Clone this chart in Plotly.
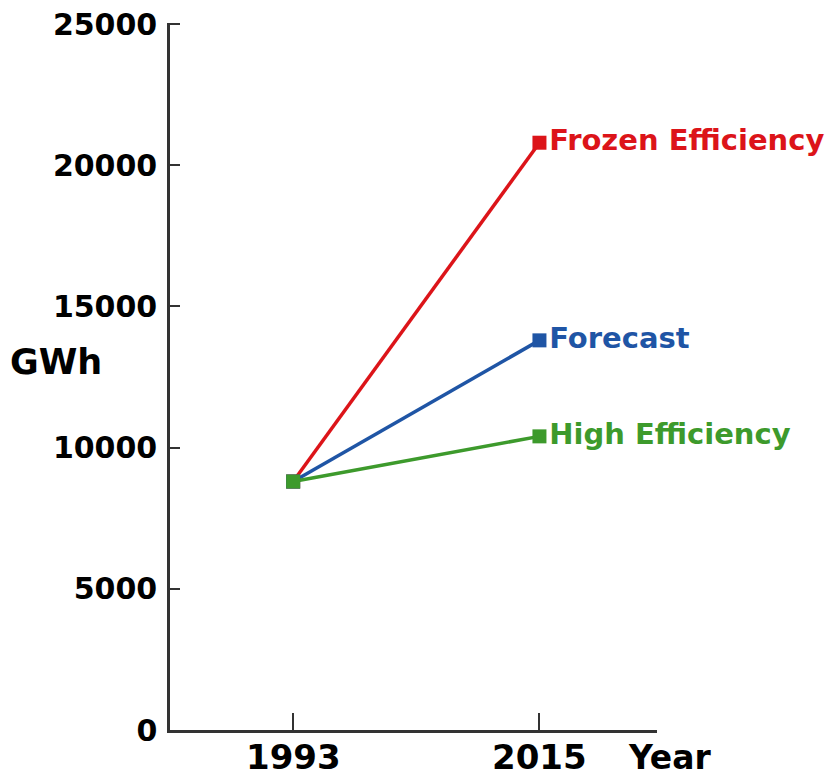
import plotly.graph_objects as go

years = [1993, 2015]
year_labels = ["1993", "2015"]
series_names = ["Frozen Efficiency", "Forecast", "High Efficiency"]
frozen = [8800, 20800]
forecast = [8800, 13800]
high = [8800, 10400]
colors = ["#dc1419", "#1f55a5", "#3d9a2c"]
y_ticks = [0, 5000, 10000, 15000, 20000, 25000]
y_tick_labels = ["0", "5000", "10000", "15000", "20000", "25000"]

font_family = "DejaVu Sans"
# the page body adds an 8px offset; size the figure to fit the window
OFF = 8
FW, FH = 837 - OFF, 779 - OFF
L, R, T, B = 170 - OFF, 657 - OFF, 23 - OFF, 730 - OFF
fig = go.Figure()
for name, vals, col in zip(series_names, [frozen, forecast, high], colors):
    fig.add_trace(go.Scatter(
        x=years, y=vals, mode="lines+markers+text",
        line=dict(color=col, width=3.5),
        marker=dict(symbol="square", size=14, color=col),
        text=["", name], textposition="middle right",
        textfont=dict(family=font_family, size=29, color=col, weight="bold"),
        cliponaxis=False, showlegend=False, hoverinfo="skip",
    ))

fig.update_layout(
    width=FW, height=FH,
    margin=dict(l=L, r=FW - R, t=T, b=FH - B),
    paper_bgcolor="white", plot_bgcolor="white",
    font=dict(family=font_family, size=27, color="black"),
)
fig.update_xaxes(
    range=[1982, 2025.5], tickvals=years, showticklabels=False,
    ticks="inside", ticklen=17, tickwidth=2, tickcolor="#333",
    showline=True, linecolor="#333", linewidth=2.5, showgrid=False, zeroline=False,
    automargin=False,
)
fig.update_yaxes(
    range=[0, 25040], tickvals=y_ticks, ticktext=y_tick_labels,
    ticks="inside", ticklen=10, tickwidth=2, tickcolor="#333",
    showline=True, linecolor="#333", linewidth=2.5, showgrid=False, zeroline=False,
    tickfont=dict(family=font_family, size=30, color="black", weight="bold"),
    ticklabelstandoff=4, automargin=False, ticklabeloverflow="allow",
)
W, H = R - L, B - T
for yr, lab in zip(years, year_labels):
    fig.add_annotation(text=lab, xref="x", yref="paper", x=yr, y=-((757 - OFF) - B) / H,
                       xanchor="center", yanchor="middle", showarrow=False,
                       font=dict(family=font_family, size=34, color="black", weight="bold"))
fig.add_annotation(text="GWh", xref="paper", yref="paper", x=(56 - OFF - L) / W, y=(B - (362 - OFF)) / H,
                   xanchor="center", yanchor="middle", showarrow=False,
                   font=dict(family=font_family, size=35, color="black", weight="bold"))
fig.add_annotation(text="Year", xref="paper", yref="paper", x=(670 - OFF - L) / W, y=-((757 - OFF) - B) / H,
                   xanchor="center", yanchor="middle", showarrow=False,
                   font=dict(family=font_family, size=33, color="black", weight="bold"))
fig.write_html("out.html")
